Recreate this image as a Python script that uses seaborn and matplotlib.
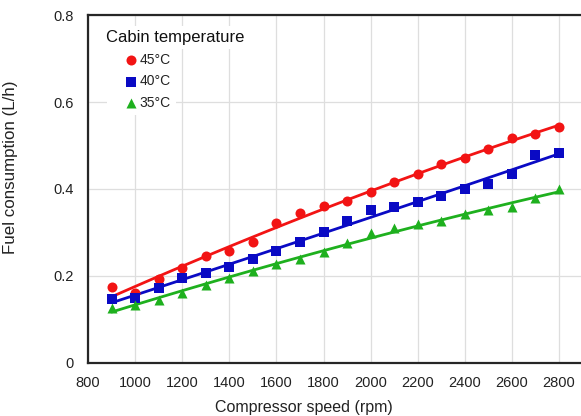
import numpy as np
import pandas as pd
import matplotlib
matplotlib.use("Agg")
import matplotlib.pyplot as plt
import seaborn as sns

# ---- data ----
speed = [900, 1000, 1100, 1200, 1300, 1400, 1500, 1600, 1700, 1800,
         1900, 2000, 2100, 2200, 2300, 2400, 2500, 2600, 2700, 2800]
fuel_45 = [0.173, 0.161, 0.192, 0.219, 0.245, 0.258, 0.277, 0.322, 0.345, 0.361,
           0.372, 0.392, 0.416, 0.434, 0.457, 0.472, 0.492, 0.517, 0.527, 0.544]
fuel_40 = [0.146, 0.149, 0.172, 0.194, 0.207, 0.221, 0.239, 0.256, 0.277, 0.302,
           0.327, 0.352, 0.359, 0.370, 0.385, 0.400, 0.411, 0.434, 0.478, 0.484]
fuel_35 = [0.126, 0.133, 0.144, 0.161, 0.179, 0.194, 0.212, 0.227, 0.239, 0.254,
           0.275, 0.298, 0.309, 0.319, 0.326, 0.342, 0.352, 0.359, 0.379, 0.399]
series_labels = ["45°C", "40°C", "35°C"]
legend_title = "Cabin temperature"
x_label = "Compressor speed (rpm)"
y_label = "Fuel consumption (L/h)"
x_ticks = [800, 1000, 1200, 1400, 1600, 1800, 2000, 2200, 2400, 2600, 2800]
y_ticks = [0, 0.2, 0.4, 0.6, 0.8]
y_tick_labels = ["0", "0.2", "0.4", "0.6", "0.8"]

colors = ["#F21414", "#0A0AC4", "#1EB01E"]
markers = ["o", "s", "^"]
sizes = [52, 46, 52]

sns.set_theme(style="white")
plt.rcParams["font.family"] = ["Liberation Sans", "DejaVu Sans"]

fig = plt.figure(figsize=(5.81, 4.16), dpi=100)
ax = fig.add_axes([88 / 581, 1 - 362.5 / 416, 494.6 / 581, 347 / 416])

ax.set_axisbelow(True)
ax.grid(True, color="#DEDEDE", linewidth=0.9)

for vals, lab, col, mk, sz in zip([fuel_45, fuel_40, fuel_35], series_labels,
                                  colors, markers, sizes):
    df = pd.DataFrame({"speed": speed, "fuel": vals})
    sns.regplot(data=df, x="speed", y="fuel", order=2, ci=None, scatter=False,
                ax=ax, line_kws=dict(color=col, linewidth=2.0), label=None)
    sns.scatterplot(data=df, x="speed", y="fuel", ax=ax, color=col, marker=mk,
                    s=sz, linewidth=0, label=lab, zorder=3)

ax.set_xlim(800, 2900)
ax.set_ylim(0, 0.8)
ax.set_xticks(x_ticks)
ax.set_yticks(y_ticks)
ax.set_yticklabels(y_tick_labels)
ax.tick_params(axis="both", length=0, pad=10, labelsize=10.5, colors="#222222")

for s in ax.spines.values():
    s.set_color("#262626")
    s.set_linewidth(1.6)
    s.set_visible(True)

ax.set_xlabel(x_label, fontsize=11.5, color="#222222")
ax.set_ylabel(y_label, fontsize=12.2, color="#222222")
ax.xaxis.set_label_coords(0.437, -0.107)
ax.yaxis.set_label_coords(-0.1415, 0.562)

# legend title as its own white box
ax.text(0.037, 0.936, legend_title, transform=ax.transAxes, fontsize=12,
        color="#111111", ha="left", va="center", zorder=5,
        bbox=dict(facecolor="white", edgecolor="none", pad=3))

handles, labels = ax.get_legend_handles_labels()
leg = ax.legend(handles, labels, loc="upper left",
                bbox_to_anchor=(0.0394, 0.909), borderaxespad=0,
                fontsize=10, frameon=True,
                handlelength=2.6, handletextpad=-0.72, labelspacing=0.55,
                borderpad=0.4, markerscale=1.0)
leg.get_frame().set_facecolor("white")
leg.get_frame().set_edgecolor("none")
leg.get_frame().set_alpha(1.0)
for t in leg.get_texts():
    t.set_color("#222222")

fig.savefig("out.png", dpi=100)
